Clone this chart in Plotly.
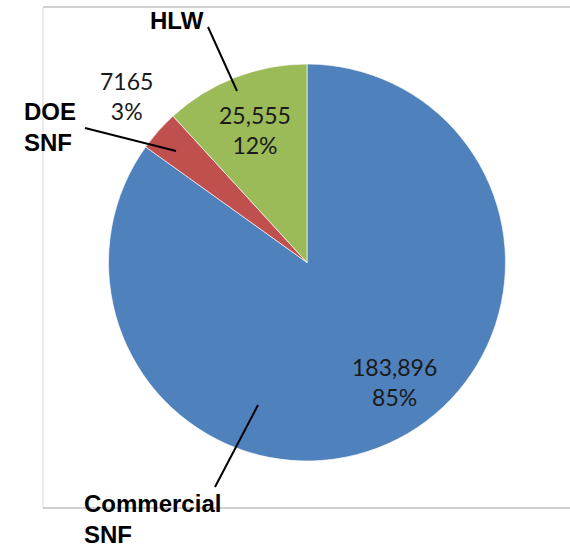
import plotly.graph_objects as go

# ---- data ----
categories = ["Commercial SNF", "DOE SNF", "HLW"]
values = [183896, 7165, 25555]
value_labels = ["183,896", "7165", "25,555"]
colors = ["#4f81bd", "#c0504d", "#9bbb59"]
category_labels = ["Commercial<br>SNF", "DOE<br>SNF", "HLW"]

W, H = 570, 547
total = sum(values)
pcts = [round(v / total * 100) for v in values]

def px(x):
    return x / W

def py(y):
    return 1 - y / H

# pie geometry (pixels)
cx, cy, r = 307, 262.5, 198.5

fig = go.Figure()
fig.add_trace(go.Pie(
    labels=categories,
    values=values,
    sort=False,
    direction="clockwise",
    rotation=0,
    textinfo="none",
    hoverinfo="label+value+percent",
    marker=dict(colors=colors, line=dict(color="rgba(255,255,255,0.8)", width=0.8)),
    domain=dict(x=[px(cx - r), px(cx + r)], y=[py(cy + r), py(cy - r)]),
    showlegend=False,
))

# value / percentage labels (positions are layout only)
val_pos = {
    "Commercial SNF": (394, 382),
    "DOE SNF": (126, 96),
    "HLW": (255, 130),
}
annotations = []
for cat, vl, p in zip(categories, value_labels, pcts):
    x, y = val_pos[cat]
    annotations.append(dict(
        x=px(x), y=py(y), xref="paper", yref="paper",
        text=f"{vl}<br>{p}%", showarrow=False,
        xanchor="center", yanchor="middle", align="center",
        font=dict(family="Lato, 'Open Sans', sans-serif", size=23, color="#1a1a1a"),
    ))

# category labels
cat_pos = {
    "Commercial SNF": (82, 519, "left"),
    "DOE SNF": (22, 127, "left"),
    "HLW": (176.5, 20, "center"),
}
for cat, lab in zip(categories, category_labels):
    x, y, anc = cat_pos[cat]
    annotations.append(dict(
        x=px(x), y=py(y), xref="paper", yref="paper",
        text=f"<b>{lab}</b>", showarrow=False,
        xanchor=anc, yanchor="middle", align="left",
        font=dict(family="'Liberation Sans', Arial, sans-serif", size=24, color="#000000"),
    ))

# leader lines and frame
leaders = [
    ((208, 27), (237, 91)),
    ((85, 128), (176, 151)),
    ((258, 405), (215, 487)),
]
shapes = []
for (x0, y0), (x1, y1) in leaders:
    shapes.append(dict(type="line", xref="paper", yref="paper",
                       x0=px(x0), y0=py(y0), x1=px(x1), y1=py(y1),
                       line=dict(color="#000000", width=2)))
# frame: top, left, bottom
shapes.append(dict(type="line", xref="paper", yref="paper", x0=px(43), y0=py(7), x1=1, y1=py(7),
                   line=dict(color="#c0c0c0", width=1.5)))
shapes.append(dict(type="line", xref="paper", yref="paper", x0=px(43), y0=py(7), x1=px(43), y1=py(508),
                   line=dict(color="#e4e4e4", width=1.5)))
shapes.append(dict(type="line", xref="paper", yref="paper", x0=px(43), y0=py(508), x1=1, y1=py(508),
                   line=dict(color="#c0c0c0", width=1.5)))

fig.update_layout(
    width=W, height=H,
    margin=dict(l=0, r=0, t=0, b=0),
    paper_bgcolor="white",
    plot_bgcolor="white",
    annotations=annotations,
    shapes=shapes,
)

fig.write_html(
    "out.html",
    config={"displayModeBar": False},
    post_script="document.body.style.margin='0';document.body.style.overflow='hidden';",
)
